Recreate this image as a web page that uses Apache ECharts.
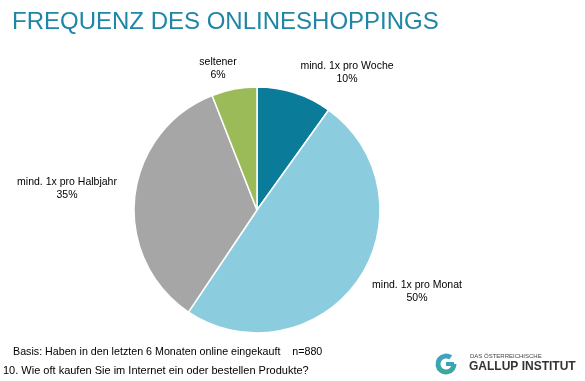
<!DOCTYPE html>
<html><head><meta charset="utf-8">
<script src="https://cdn.jsdelivr.net/npm/echarts@6/dist/echarts.min.js"></script>
<style>html,body{margin:0;padding:0;background:#fff}#c{width:585px;height:381px}</style>
</head><body><div id="c"></div>
<script>
const categories = ['mind. 1x pro Woche', 'mind. 1x pro Monat', 'mind. 1x pro Halbjahr', 'seltener'];
const values = [10, 50, 35, 6];
const colors = ['#0A7C99', '#8BCDDF', '#A6A6A6', '#9BBB59'];
const labelPos = [[347, 73], [417, 292], [67, 189], [218, 69]];

const chart = echarts.init(document.getElementById('c'));
chart.setOption({
  animation: false,
  backgroundColor: '#fff',
  title: {
    text: 'FREQUENZ DES ONLINESHOPPINGS',
    left: 7, top: 5,
    textStyle: { fontFamily: 'Liberation Sans', fontWeight: 'normal', fontSize: 24, color: '#1F86A6' }
  },
  series: [{
    type: 'pie',
    center: [257, 210],
    radius: 123,
    startAngle: 90,
    clockwise: true,
    data: categories.map((n, i) => ({ name: n, value: values[i], itemStyle: { color: colors[i] } })),
    itemStyle: { borderColor: '#fff', borderWidth: 1.5 },
    label: {
      show: true,
      position: 'outside',
      overflow: 'none',
      width: 200,
      formatter: p => p.name + '\n' + p.value + '%',
      fontFamily: 'Liberation Sans', fontSize: 10.5, color: '#000', lineHeight: 13, align: 'center'
    },
    labelLine: { show: false },
    labelLayout: p => ({ x: labelPos[p.dataIndex][0], y: labelPos[p.dataIndex][1], align: 'center', verticalAlign: 'middle' })
  }],
  graphic: [
    { type: 'text', left: 13, top: 347, style: { text: 'Basis: Haben in den letzten 6 Monaten online eingekauft    n=880', font: '10.7px Liberation Sans', fill: '#000' } },
    { type: 'text', left: 3, top: 365, style: { text: '10. Wie oft kaufen Sie im Internet ein oder bestellen Produkte?', font: '11px Liberation Sans', fill: '#000' } },
    { type: 'arc', shape: { cx: 446, cy: 364, r: 8, startAngle: -Math.PI * 0.3, endAngle: 0, clockwise: false },
      style: { stroke: new echarts.graphic.LinearGradient(0, 0, 0, 1, [{ offset: 0, color: '#3FA3C6' }, { offset: 1, color: '#39A89A' }]), lineWidth: 5, fill: null } },
    { type: 'rect', shape: { x: 446, y: 362, width: 8, height: 4 }, style: { fill: '#3AA5B0' } },
    { type: 'text', left: 470, top: 353, style: { text: 'DAS ÖSTERREICHISCHE', font: '6px Liberation Sans', fill: '#444' } },
    { type: 'text', left: 469, top: 361, style: { text: 'GALLUP INSTITUT', font: 'bold 12px Liberation Sans', fill: '#333' } }
  ]
});
</script></body></html>
